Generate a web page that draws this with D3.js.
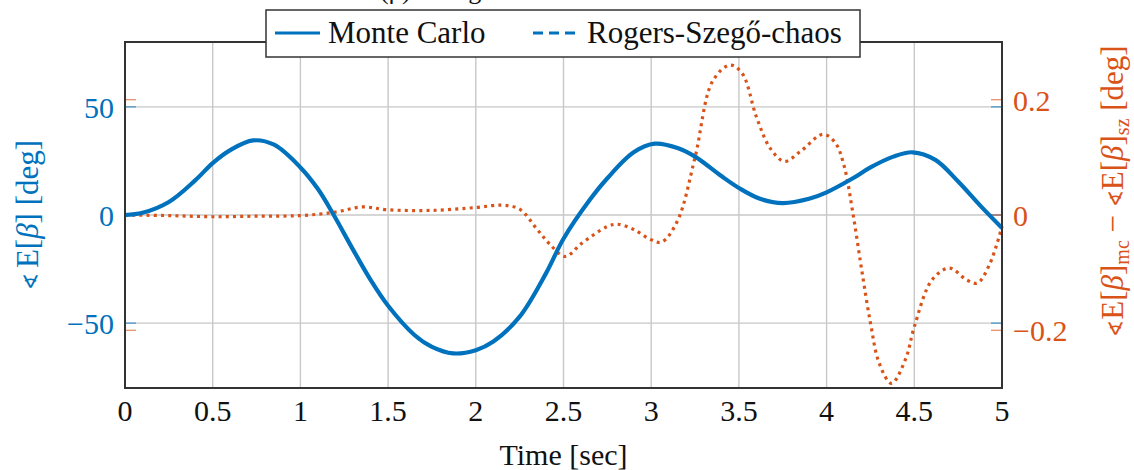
<!DOCTYPE html>
<html>
<head>
<meta charset="utf-8">
<script src="https://cdn.jsdelivr.net/npm/d3@7"></script>
<style>
  html, body { margin: 0; padding: 0; background: #fff; }
  svg { display: block; }
  text { font-family: "Liberation Serif", "Times New Roman", serif; }
</style>
</head>
<body>
<svg id="chart" width="1134" height="470"></svg>
<script>
// Monte Carlo mean of the angle (left axis, degrees)
const timeMC = [0, 0.1, 0.25, 0.4, 0.5, 0.6, 0.73, 0.85, 1.0, 1.1, 1.19, 1.3, 1.4, 1.5, 1.65, 1.75, 1.87, 2.0, 2.1, 2.25, 2.4, 2.5, 2.65, 2.75, 2.9, 3.02, 3.15, 3.25, 3.4, 3.5, 3.62, 3.75, 3.9, 4.0, 4.15, 4.25, 4.38, 4.49, 4.62, 4.75, 4.88, 5.0];
const meanMC = [0, 1, 6, 16, 24, 30, 34.5, 32.5, 22, 12, 0, -16, -30, -42, -55.5, -61, -64, -62.5, -58.5, -47, -27, -11, 7, 17, 29, 33, 31, 27, 18, 12.5, 7.5, 5.5, 7.5, 10.5, 17, 22, 27, 29, 25.5, 15.5, 4, -6];

// Difference between Monte Carlo and Rogers-Szegő chaos means (right axis, degrees)
const timeDiff = [0, 0.25, 0.5, 0.75, 1.0, 1.2, 1.35, 1.5, 1.75, 2.0, 2.15, 2.25, 2.35, 2.42, 2.51, 2.6, 2.75, 2.81, 2.9, 3.0, 3.06, 3.15, 3.25, 3.35, 3.45, 3.52, 3.6, 3.68, 3.76, 3.85, 3.98, 4.05, 4.1, 4.15, 4.2, 4.25, 4.3, 4.37, 4.45, 4.5, 4.6, 4.7, 4.8, 4.86, 4.93, 5.0];
const meanDiff = [0, -0.001, -0.003, -0.002, -0.001, 0.005, 0.014, 0.009, 0.008, 0.013, 0.017, 0.01, -0.025, -0.05, -0.072, -0.05, -0.02, -0.016, -0.025, -0.043, -0.047, -0.01, 0.1, 0.232, 0.26, 0.245, 0.17, 0.115, 0.093, 0.11, 0.14, 0.125, 0.085, 0.003, -0.095, -0.187, -0.257, -0.292, -0.25, -0.194, -0.113, -0.092, -0.113, -0.118, -0.085, -0.02];

const xTicks = [0, 0.5, 1, 1.5, 2, 2.5, 3, 3.5, 4, 4.5, 5];
const xTickLabels = ["0", "0.5", "1", "1.5", "2", "2.5", "3", "3.5", "4", "4.5", "5"];
const leftTicks = [-50, 0, 50];
const rightTicks = [-0.2, 0, 0.2];
const seriesNames = ["Monte Carlo", "Rogers-Szegő-chaos"];

const blue = "#0072BD";
const orange = "#D95319";

const svg = d3.select("#chart");
const m = { left: 125, right: 1002, top: 42, bottom: 388 };

const x = d3.scaleLinear().domain([0, 5]).range([m.left, m.right]);
const yL = d3.scaleLinear().domain([-80, 80]).range([m.bottom, m.top]);
const yR = d3.scaleLinear().domain([-0.3, 0.3]).range([m.bottom, m.top]);

// Caption line above the figure (only its lowest part falls inside the frame)
svg.append("text").attr("x", 380).attr("y", -1)
  .attr("font-size", 26).attr("fill", "#111")
  .text("(β) in degrees");

// Grid
const grid = svg.append("g").attr("stroke", "#c8c8c8").attr("stroke-width", 1.4);
grid.selectAll("line.v").data(xTicks.slice(1, -1)).join("line")
  .attr("x1", d => x(d)).attr("x2", d => x(d))
  .attr("y1", m.top).attr("y2", m.bottom);
grid.selectAll("line.h").data(leftTicks).join("line")
  .attr("x1", m.left).attr("x2", m.right)
  .attr("y1", d => yL(d)).attr("y2", d => yL(d));

// Inner tick marks on both sides for both axes
const tickLen = 11;
function innerTicks(vals, scale, color) {
  const g = svg.append("g").attr("stroke", color).attr("stroke-width", 1.4).attr("opacity", 0.6);
  g.selectAll("line.l").data(vals).join("line")
    .attr("x1", m.left).attr("x2", m.left + tickLen)
    .attr("y1", d => scale(d)).attr("y2", d => scale(d));
  g.selectAll("line.r").data(vals).join("line")
    .attr("x1", m.right - tickLen).attr("x2", m.right)
    .attr("y1", d => scale(d)).attr("y2", d => scale(d));
}
innerTicks(leftTicks, yL, blue);
innerTicks(rightTicks, yR, orange);

// Series
const lineMC = d3.line().x(d => x(d[0])).y(d => yL(d[1])).curve(d3.curveCatmullRom.alpha(0.5));
const lineDiff = d3.line().x(d => x(d[0])).y(d => yR(d[1])).curve(d3.curveCatmullRom.alpha(0.5));

svg.append("path")
  .datum(timeDiff.map((t, i) => [t, meanDiff[i]]))
  .attr("d", lineDiff)
  .attr("fill", "none").attr("stroke", orange)
  .attr("stroke-width", 3.2).attr("stroke-dasharray", "3 4.2");

svg.append("path")
  .datum(timeMC.map((t, i) => [t, meanMC[i]]))
  .attr("d", lineMC)
  .attr("fill", "none").attr("stroke", blue)
  .attr("stroke-width", 4.2).attr("stroke-linejoin", "round");

// Frame
svg.append("rect")
  .attr("x", m.left).attr("y", m.top)
  .attr("width", m.right - m.left).attr("height", m.bottom - m.top)
  .attr("fill", "none").attr("stroke", "#333").attr("stroke-width", 2);

// X tick labels
svg.append("g").selectAll("text").data(xTicks).join("text")
  .attr("x", d => x(d)).attr("y", 421)
  .attr("text-anchor", "middle").attr("font-size", 30).attr("fill", "#111")
  .text((d, i) => xTickLabels[i]);

svg.append("text").attr("x", x(2.5)).attr("y", 465)
  .attr("text-anchor", "middle").attr("font-size", 30).attr("fill", "#111")
  .text("Time [sec]");

// Left tick labels
const fmtL = d => (d < 0 ? "\u2212" : "") + Math.abs(d);
svg.append("g").selectAll("text").data(leftTicks).join("text")
  .attr("x", 114).attr("y", d => yL(d) + 11)
  .attr("text-anchor", "end").attr("font-size", 30).attr("fill", blue)
  .text(fmtL);

// Right tick labels
svg.append("g").selectAll("text").data(rightTicks).join("text")
  .attr("x", 1013).attr("y", d => yR(d) + 11)
  .attr("text-anchor", "start").attr("font-size", 30).attr("fill", orange)
  .text(d => (d < 0 ? "\u2212" : "") + (d === 0 ? "0" : Math.abs(d).toFixed(1)));

// Left axis title
const lt = svg.append("text")
  .attr("transform", `translate(38,${(m.top + m.bottom) / 2}) rotate(-90)`)
  .attr("text-anchor", "middle").attr("font-size", 31).attr("fill", blue);
lt.append("tspan").attr("font-size", 20).text("\u2222 ");
lt.append("tspan").text("E[");
lt.append("tspan").attr("font-style", "italic").text("β");
lt.append("tspan").text("] [deg]");

// Right axis title
const rt = svg.append("text")
  .attr("transform", `translate(1123,191) rotate(-90)`)
  .attr("text-anchor", "middle").attr("font-size", 31).attr("fill", orange);
rt.append("tspan").attr("font-size", 20).text("\u2222");
rt.append("tspan").text("E[");
rt.append("tspan").attr("font-style", "italic").text("β");
rt.append("tspan").text("]");
rt.append("tspan").attr("font-size", 20).attr("dy", 6).text("mc");
rt.append("tspan").attr("dy", -6).text(" \u2212 ");
rt.append("tspan").attr("font-size", 20).text("\u2222");
rt.append("tspan").text("E[");
rt.append("tspan").attr("font-style", "italic").text("β");
rt.append("tspan").text("]");
rt.append("tspan").attr("font-size", 20).attr("dy", 6).text("sz");
rt.append("tspan").attr("dy", -6).text(" [deg]");

// Legend
const lg = svg.append("g");
lg.append("rect").attr("x", 266).attr("y", 10).attr("width", 594).attr("height", 47)
  .attr("fill", "#fff").attr("stroke", "#333").attr("stroke-width", 1.5);
lg.append("line").attr("x1", 275).attr("x2", 320).attr("y1", 33).attr("y2", 33)
  .attr("stroke", blue).attr("stroke-width", 3);
lg.append("text").attr("x", 328).attr("y", 43).attr("font-size", 31).attr("fill", "#111")
  .text(seriesNames[0]);
lg.append("line").attr("x1", 533).attr("x2", 575).attr("y1", 33).attr("y2", 33)
  .attr("stroke", blue).attr("stroke-width", 3).attr("stroke-dasharray", "10 6");
lg.append("text").attr("x", 587).attr("y", 43).attr("font-size", 31).attr("fill", "#111")
  .text(seriesNames[1]);
</script>
</body>
</html>
